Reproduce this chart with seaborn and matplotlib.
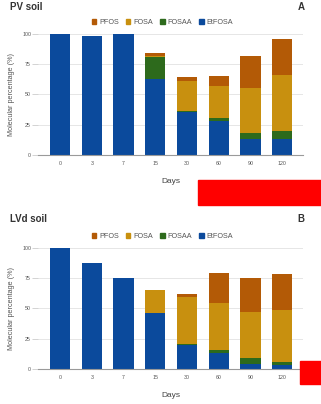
import matplotlib
matplotlib.use("Agg")
import matplotlib.pyplot as plt
import matplotlib.patches as mpatches
import seaborn as sns
import pandas as pd
import numpy as np

sns.set_theme(style="white")
plt.rcParams["font.family"] = ["Liberation Sans", "DejaVu Sans"]

days = ["0", "3", "7", "15", "30", "60", "90", "120"]
compounds = ["PFOS", "FOSA", "FOSAA", "EtFOSA"]
colors = {"PFOS": "#b35a06", "FOSA": "#c8900f", "FOSAA": "#2d6a1c", "EtFOSA": "#0b4a9c"}

# PV soil
pv_etfosa = [100, 98.4, 100, 62.4, 35.4, 28.3, 13.5, 13.5]
pv_fosaa = [0, 0, 0, 18.6, 0.6, 2.2, 4.9, 6.5]
pv_fosa = [0, 0, 0, 0.6, 25.0, 26.5, 36.6, 46.0]
pv_pfos = [0, 0, 0, 2.2, 3.0, 8.0, 27.0, 30.0]

# LVd soil
lvd_etfosa = [100, 87.7, 74.8, 46.0, 19.5, 13.0, 4.0, 3.3]
lvd_fosaa = [0, 0, 0, 0.3, 1.0, 3.0, 5.3, 2.7]
lvd_fosa = [0, 0, 0, 18.7, 39.0, 38.0, 37.7, 43.0]
lvd_pfos = [0, 0, 0, 0, 2.5, 25.0, 28.3, 29.0]

fig = plt.figure(figsize=(3.21, 4.04), dpi=100)
W, H = 321, 404


def panel(ax, etfosa, fosaa, fosa, pfos):
    df = pd.DataFrame({"Days": days, "EtFOSA": etfosa, "FOSAA": fosaa,
                       "FOSA": fosa, "PFOS": pfos})
    stack_order = ["EtFOSA", "FOSAA", "FOSA", "PFOS"]
    cum = df[stack_order].cumsum(axis=1)
    # draw from the tallest cumulative layer down so lower layers sit on top
    for name in reversed(stack_order):
        sns.barplot(x=df["Days"], y=cum[name], color=colors[name], ax=ax,
                    width=0.64, saturation=1, order=days, edgecolor="none")
    ax.set_ylim(0, 100)
    ax.set_xlim(-0.7, 7.66)
    ax.set_yticks([0, 25, 50, 75, 100])
    ax.set_yticklabels(["0", "25", "50", "75", "100"])
    ax.yaxis.grid(True, color="#e6e6e6", linewidth=0.7)
    ax.set_axisbelow(True)
    for s in ["top", "right", "left"]:
        ax.spines[s].set_visible(False)
    ax.spines["bottom"].set_color("#9a9a9a")
    ax.spines["bottom"].set_linewidth(0.8)
    ax.tick_params(axis="y", length=4, width=0.6, color="#cccccc",
                   labelsize=3.8, labelcolor="#555555", pad=1, left=True)
    ax.tick_params(axis="x", length=0, labelsize=3.8, labelcolor="#555555", pad=4)
    ax.set_xlabel("Days", fontsize=6, color="#444444", labelpad=9)
    ax.set_ylabel("Molecular percentage (%)", fontsize=5.2, color="#555555", labelpad=5)
    handles = [mpatches.Patch(color=colors[c], label=c) for c in compounds]
    leg = ax.legend(handles=handles, ncol=4, loc="lower center",
                    bbox_to_anchor=(0.47, 1.04), frameon=False, fontsize=5.2,
                    handlelength=0.6, handleheight=0.6, handletextpad=0.4,
                    columnspacing=1.0, borderaxespad=0)
    for t in leg.get_texts():
        t.set_color("#555555")


ax1 = fig.add_axes([38 / W, 1 - 155 / H, 265 / W, 121.3 / H])
panel(ax1, pv_etfosa, pv_fosaa, pv_fosa, pv_pfos)
ax2 = fig.add_axes([38 / W, 1 - 369 / H, 265 / W, 121.3 / H])
panel(ax2, lvd_etfosa, lvd_fosaa, lvd_fosa, lvd_pfos)

fig.text(10 / W, 1 - 7 / H, "PV soil", fontsize=7, fontweight="bold",
         color="#333333", ha="left", va="center")
fig.text(301 / W, 1 - 7 / H, "A", fontsize=7, fontweight="bold",
         color="#333333", ha="center", va="center")
fig.text(10 / W, 1 - 219 / H, "LVd soil", fontsize=7, fontweight="bold",
         color="#333333", ha="left", va="center")
fig.text(301 / W, 1 - 219 / H, "B", fontsize=7, fontweight="bold",
         color="#333333", ha="center", va="center")

# red blocks on the right edge
fig.patches.append(mpatches.Rectangle((198 / W, 1 - 205 / H), 123 / W, 25 / H,
                                      transform=fig.transFigure, color="#ff0000",
                                      zorder=10))
fig.patches.append(mpatches.Rectangle((300 / W, 1 - 384 / H), 21 / W, 23 / H,
                                      transform=fig.transFigure, color="#ff0000",
                                      zorder=10))

fig.savefig("out.png", dpi=100)
